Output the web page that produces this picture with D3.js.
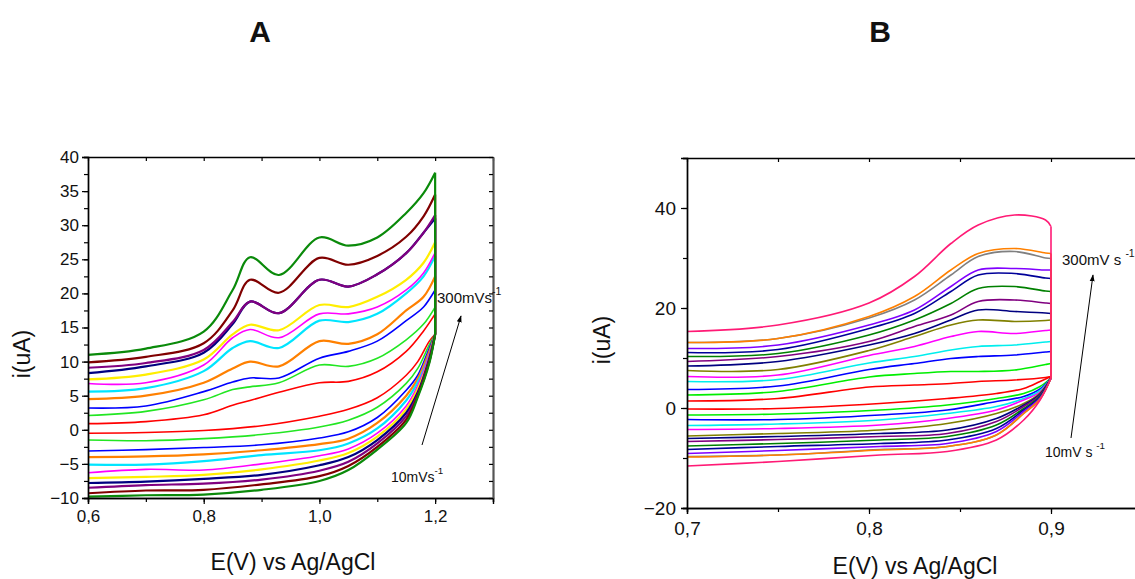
<!DOCTYPE html>
<html>
<head>
<meta charset="utf-8">
<script src="https://cdn.jsdelivr.net/npm/d3@7"></script>
<style>
  body { margin: 0; background: #fff; }
  text { font-family: "Liberation Sans", Arial, sans-serif; fill: #111; }
</style>
</head>
<body>
<script>
// ---------- panel A data (i in uA) ----------
const colorsA = ["#ff0000", "#22e622", "#0000ff", "#ff8000", "#00e5ff", "#ff00ff", "#ffee00", "#000080", "#800080", "#800000", "#0a8a0a"]
const noisyA = [false, false, false, true, true, false, true, true, true, true, true]
const potA_fwd = [0.6, 0.7, 0.8, 0.85, 0.88, 0.93, 1.0, 1.05, 1.1, 1.15, 1.18, 1.2]
const potA_rev = [1.2, 1.19, 1.17, 1.15, 1.1, 1.05, 1.0, 0.9, 0.8, 0.7, 0.6]
const fwdA = [
  [0.9, 1.2, 2.2, 3.6, 4.3, 5.5, 6.9, 7.1, 8.5, 11.5, 14.5, 17.0],
  [2.1, 2.7, 4.4, 5.9, 6.3, 6.9, 9.5, 9.3, 10.5, 13.2, 15.5, 18.0],
  [3.2, 3.5, 5.6, 7.0, 7.6, 7.6, 10.5, 11.5, 13.0, 16.0, 18.0, 20.5],
  [4.5, 5.0, 6.9, 9.0, 10.0, 9.3, 13.0, 12.6, 14.0, 17.5, 19.5, 22.5],
  [5.6, 6.1, 8.6, 12.0, 13.0, 12.0, 16.0, 15.8, 17.0, 20.0, 22.5, 25.5],
  [6.8, 6.9, 9.5, 13.5, 14.7, 13.5, 17.0, 17.0, 18.0, 20.5, 23.0, 26.0],
  [7.4, 8.1, 10.3, 14.0, 15.4, 14.6, 18.3, 18.0, 19.5, 22.0, 24.5, 27.5],
  [8.3, 9.3, 11.3, 15.5, 18.8, 17.1, 22.0, 21.0, 22.8, 25.9, 28.9, 31.0],
  [9.1, 9.8, 11.7, 15.8, 18.8, 17.1, 22.0, 21.0, 22.8, 25.9, 28.9, 31.5],
  [9.9, 10.7, 12.7, 17.5, 22.0, 20.1, 25.2, 24.2, 25.5, 28.3, 31.3, 34.5],
  [11.0, 11.9, 14.4, 20.5, 25.3, 22.7, 28.2, 27.0, 28.2, 31.8, 34.7, 37.7]
]
const revA = [
  [14, 13.0, 10.0, 8.0, 4.7, 3.0, 2.0, 0.6, -0.1, -0.4, -0.5],
  [14, 12.5, 9.0, 6.8, 3.3, 1.4, 0.4, -0.7, -1.3, -1.6, -1.5],
  [14, 12.0, 8.0, 5.8, 1.8, -0.3, -1.2, -2.2, -2.6, -2.9, -3.1],
  [14, 11.5, 7.5, 5.0, 1.0, -1.3, -2.1, -3.0, -3.6, -3.9, -4.0],
  [14, 11.0, 7.0, 4.3, 0.2, -2.0, -3.0, -3.7, -4.6, -5.1, -5.1],
  [14, 11.0, 6.5, 3.5, -0.5, -2.8, -3.8, -5.0, -5.9, -5.8, -6.3],
  [14, 10.5, 6.0, 3.0, -1.0, -3.4, -4.5, -5.8, -6.6, -6.9, -7.1],
  [14, 10.5, 5.5, 2.5, -1.5, -4.0, -5.2, -6.6, -7.2, -7.6, -7.8],
  [14, 10.2, 5.2, 2.0, -2.0, -4.7, -6.0, -7.3, -7.9, -8.1, -8.5],
  [14, 10.0, 5.0, 1.5, -2.5, -5.3, -6.8, -8.0, -8.8, -8.9, -9.3],
  [14, 9.8, 4.8, 1.0, -2.9, -5.9, -7.5, -8.8, -9.5, -9.6, -9.8]
]
const yTicksA = [-10, -5, 0, 5, 10, 15, 20, 25, 30, 35, 40]
const xTicksA = [0.6, 0.8, 1.0, 1.2]

// ---------- panel B data (i in uA) ----------
const colorsB = ["#ff0000", "#00ee00", "#0000ff", "#00eeee", "#ff00ff", "#808000", "#000080", "#800080", "#008000", "#000099", "#8000ff", "#808080", "#ff8000", "#ff1a75"]
const potB_fwd = [0.7, 0.75, 0.8, 0.825, 0.845, 0.86, 0.88, 0.897, 0.9]
const potB_rev = [0.9, 0.894, 0.885, 0.87, 0.843, 0.806, 0.75, 0.7]
const fwdB = [
  [1.4, 1.9, 4.2, 4.6, 4.9, 5.3, 5.6, 6.1, 6.3],
  [2.6, 3.3, 6.2, 6.9, 7.3, 7.3, 7.6, 8.7, 8.9],
  [3.7, 4.4, 7.7, 8.9, 9.9, 10.3, 10.6, 11.2, 11.3],
  [5.3, 5.7, 9.0, 10.3, 11.6, 12.3, 12.6, 13.2, 13.3],
  [6.3, 6.6, 10.5, 12.3, 14.3, 15.3, 14.9, 15.5, 15.6],
  [7.5, 7.7, 11.5, 14.3, 16.6, 17.6, 17.3, 17.5, 17.6],
  [8.4, 9.3, 12.6, 14.9, 17.6, 19.6, 19.3, 19.0, 18.9],
  [9.3, 10.3, 13.3, 16.3, 18.6, 21.3, 21.6, 21.0, 20.9],
  [10.3, 10.9, 14.6, 17.6, 20.9, 23.9, 24.3, 23.4, 23.3],
  [11.1, 11.7, 15.9, 18.9, 23.3, 26.6, 26.9, 26.0, 25.9],
  [11.9, 12.6, 16.6, 19.6, 24.3, 27.6, 27.9, 27.6, 27.6],
  [13.1, 13.9, 18.0, 21.6, 26.6, 30.3, 31.3, 30.0, 29.9],
  [13.1, 13.9, 18.3, 22.3, 27.6, 30.9, 31.9, 31.0, 30.9],
  [15.3, 16.6, 21.0, 26.3, 32.9, 36.6, 38.6, 37.6, 36.3]
]
const revB = [
  [6.3, 5.3, 3.9, 2.9, 1.9, 0.9, -0.1, -0.2],
  [6.0, 4.3, 2.9, 1.9, 0.6, -0.4, -1.2, -1.4],
  [6.0, 3.8, 2.3, 1.3, -0.4, -1.4, -2.3, -2.3],
  [6.0, 3.5, 1.9, 0.3, -1.1, -2.4, -3.2, -3.5],
  [6.0, 3.2, 1.6, -0.4, -2.1, -3.4, -4.1, -4.3],
  [6.0, 3.0, 0.9, -1.1, -3.1, -4.4, -5.1, -5.6],
  [6.0, 2.8, 0.6, -2.1, -4.4, -5.1, -5.7, -6.1],
  [6.0, 2.6, 0.3, -2.7, -5.1, -5.7, -6.3, -6.7],
  [6.0, 2.4, -0.1, -3.4, -5.7, -6.4, -7.1, -7.6],
  [6.0, 2.2, -0.4, -4.1, -6.4, -7.1, -7.7, -8.3],
  [6.0, 2.0, -0.7, -4.7, -7.1, -7.7, -8.5, -9.1],
  [6.0, 1.8, -1.1, -5.4, -7.7, -8.3, -9.4, -9.7],
  [6.0, 1.8, -1.1, -5.4, -7.7, -8.4, -9.4, -9.8],
  [6.0, 1.6, -2.4, -6.4, -8.7, -9.4, -10.7, -11.6]
]
const yTicksB = [-20, 0, 20, 40]
const xTicksB = [0.7, 0.8, 0.9]

const svgWidth = 1135
const svgHeight = 579

const svg = d3.select("body").append("svg")
  .attr("width", svgWidth)
  .attr("height", svgHeight)

svg.append("defs").append("marker")
  .attr("id", "arrow")
  .attr("viewBox", "0 0 10 10")
  .attr("refX", 9).attr("refY", 5)
  .attr("markerWidth", 7).attr("markerHeight", 7)
  .attr("orient", "auto")
  .append("path")
  .attr("d", "M0,1.5 L10,5 L0,8.5 Z")
  .attr("fill", "#000")

const comma = d => d3.format(".1f")(d).replace(".", ",")

function drawPanel(p) {
  const x = d3.scaleLinear().domain(p.xDomain).range([p.left, p.right])
  const y = d3.scaleLinear().domain(p.yDomain).range([p.bottom, p.top])
  const g = svg.append("g")

  const line = d3.line()
    .x(d => x(d[0]))
    .y(d => y(d[1]))
    .curve(d3.curveCatmullRom.alpha(0.5))

  p.fwd.forEach((vals, i) => {
    const f = p.potFwd.map((e, j) => [e, vals[j]])
    const r = p.potRev.map((e, j) => [e, p.rev[i][j]])
    const w = p.noisy && p.noisy[i] ? 2.2 : 1.6
    g.append("path").attr("d", line(f))
      .attr("fill", "none").attr("stroke", p.colors[i]).attr("stroke-width", w)
    g.append("path").attr("d", line(r))
      .attr("fill", "none").attr("stroke", p.colors[i]).attr("stroke-width", w)
    // switching potential: straight drop from forward end to reverse start
    g.append("path").attr("d", d3.line().x(d => x(d[0])).y(d => y(d[1]))([f[f.length - 1], r[0]]))
      .attr("fill", "none").attr("stroke", p.colors[i]).attr("stroke-width", w)
  })

  // axes
  const minorY = d3.range(p.yDomain[0], p.yDomain[1] + 0.001, p.yMinorStep)
  const minorX = d3.range(p.xDomain[0], p.xDomain[1] + 0.0001, p.xMinorStep).map(v => +v.toFixed(3))

  g.append("g").attr("transform", `translate(${p.left},0)`)
    .call(d3.axisLeft(y).tickValues(minorY).tickFormat("").tickSize(4))
  g.append("g").attr("transform", `translate(${p.left},0)`)
    .call(d3.axisLeft(y).tickValues(p.yTicks).tickSize(6).tickPadding(p.yPad))
    .call(a => a.selectAll("text").attr("font-size", p.tickFont))

  g.append("g").attr("transform", `translate(0,${p.bottom})`)
    .call(d3.axisBottom(x).tickValues(minorX).tickFormat("").tickSize(4))
  g.append("g").attr("transform", `translate(0,${p.bottom})`)
    .call(d3.axisBottom(x).tickValues(p.xTicks).tickFormat(comma).tickSize(6).tickPadding(p.xPad))
    .call(a => a.selectAll("text").attr("font-size", p.tickFont))

  g.append("g").attr("transform", `translate(0,${p.top})`)
    .call(d3.axisTop(x).tickValues(minorX).tickFormat("").tickSizeInner(-4).tickSizeOuter(0))

  if (p.rightAxis) {
    g.append("g").attr("transform", `translate(${p.right},0)`)
      .call(d3.axisRight(y).tickValues(minorY).tickFormat("").tickSizeInner(-4).tickSizeOuter(0))
      .call(a => a.select(".domain").attr("stroke", "#555").attr("stroke-width", 2.2))
  }

  g.selectAll(".domain").filter(function () { return !this.getAttribute("stroke-width") })
    .attr("stroke-width", 1.4)
  g.selectAll(".tick line").attr("stroke-width", 1.2)

  // titles
  svg.append("text").attr("x", p.titleX).attr("y", 42)
    .attr("text-anchor", "middle").attr("font-size", 30).attr("font-weight", "bold")
    .text(p.title)
  svg.append("text").attr("x", p.xLabelX).attr("y", p.xLabelY)
    .attr("text-anchor", "middle").attr("font-size", 23)
    .text("E(V) vs Ag/AgCl")
  svg.append("text")
    .attr("transform", `translate(${p.yLabelX},${p.yLabelY}) rotate(-90)`)
    .attr("text-anchor", "middle").attr("font-size", 23)
    .text("i(uA)")

  return { x, y }
}

const panelA = drawPanel({
  title: "A", titleX: 260,
  left: 88, right: 493, top: 157, bottom: 498,
  xDomain: [0.6, 1.3], yDomain: [-10, 40],
  xTicks: xTicksA, yTicks: yTicksA, xMinorStep: 0.1, yMinorStep: 2.5,
  potFwd: potA_fwd, potRev: potA_rev, fwd: fwdA, rev: revA,
  colors: colorsA, noisy: noisyA, rightAxis: true,
  tickFont: 17, yPad: 3, xPad: 6,
  xLabelX: 293, xLabelY: 570, yLabelX: 30, yLabelY: 354
})

const panelB = drawPanel({
  title: "B", titleX: 880,
  left: 687, right: 1142, top: 158, bottom: 508,
  xDomain: [0.7, 0.95], yDomain: [-20, 50],
  xTicks: xTicksB, yTicks: yTicksB, xMinorStep: 0.05, yMinorStep: 10,
  potFwd: potB_fwd, potRev: potB_rev, fwd: fwdB, rev: revB,
  colors: colorsB, rightAxis: false,
  tickFont: 19, yPad: 5, xPad: 8,
  xLabelX: 915, xLabelY: 574, yLabelX: 610, yLabelY: 340
})

// annotations
function rateLabel(x, y, main, size) {
  const t = svg.append("text").attr("x", x).attr("y", y).attr("font-size", size)
  t.append("tspan").text(main)
  t.append("tspan").attr("dy", -size * 0.55).attr("font-size", size * 0.7).text("-1")
}
rateLabel(437, 303, "300mVs", 15)
rateLabel(391, 482, "10mVs", 14)
rateLabel(1062, 265, "300mV s ", 15)
rateLabel(1045, 457, "10mV s ", 14)

svg.append("line").attr("x1", 422).attr("y1", 445).attr("x2", 461).attr("y2", 316)
  .attr("stroke", "#000").attr("stroke-width", 1).attr("marker-end", "url(#arrow)")
svg.append("line").attr("x1", 1071).attr("y1", 438).attr("x2", 1093).attr("y2", 275)
  .attr("stroke", "#000").attr("stroke-width", 1).attr("marker-end", "url(#arrow)")
</script>
</body>
</html>
